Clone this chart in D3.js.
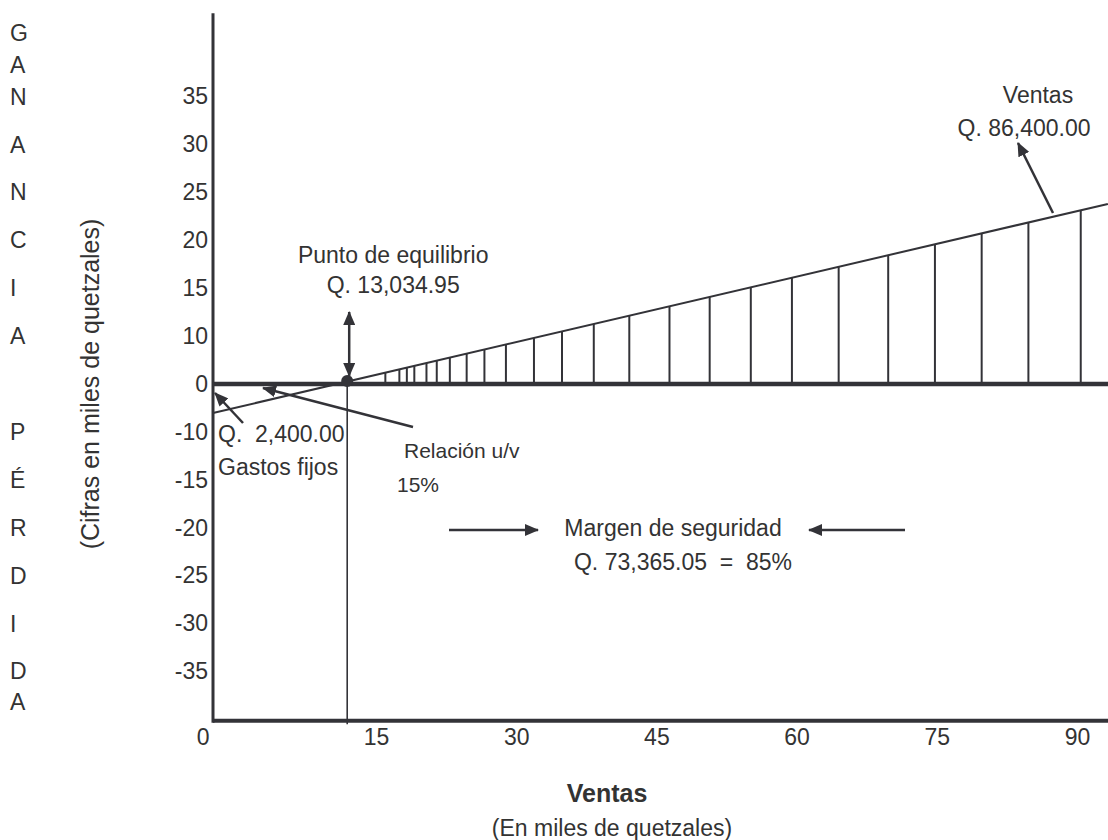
<!DOCTYPE html>
<html>
<head>
<meta charset="utf-8">
<script src="https://cdn.jsdelivr.net/npm/d3@7/dist/d3.min.js"></script>
<style>
  html, body { margin: 0; padding: 0; background: #fff; }
  svg { display: block; font-family: "Liberation Sans", Arial, Helvetica, sans-serif; }
  text { fill: #333; }
</style>
</head>
<body>
<svg id="chart" width="1108" height="840"></svg>
<script>
// ---------------- data ----------------
const xTickValues = [0, 15, 30, 45, 60, 75, 90];
const yTickValues = [35, 30, 25, 20, 15, 10, 0, -10, -15, -20, -25, -30, -35];
const salesLineX = [0, 93.3];          // ventas (miles de Q)
const salesLineY = [-6.05, 23.8];      // ganancia / pérdida (miles de Q)
const breakEven = 12.35;               // punto de equilibrio (posición en el gráfico)
const hatchX = [16, 17.5, 18.3, 19.1, 20.4, 21.5, 22.9, 24.7, 26.6, 28.9, 31.9, 34.9,
                38.3, 42.1, 46.4, 50.7, 55.1, 59.5, 64.5, 69.8, 74.8, 79.8, 84.8, 90.4];
const gananciaLetters = ["G", "A", "N", "A", "N", "C", "I", "A"];
const perdidaLetters = ["P", "É", "R", "D", "I", "D", "A"];

// ---------------- layout ----------------
const W = 1108, H = 840;
const axisX = 213, rightX = 1108;
const zeroY = 384, step = 47.9;
const ink = "#333338";

const svg = d3.select("#chart");

// piecewise scales reproduce the hand-drawn axes
const x = d3.scaleLinear().domain([0, 15, 90]).range([axisX, 376, 1077]);
const y = d3.scaleLinear()
  .domain([-40, -10, 0, 10, 40])
  .range([zeroY + 7 * step, zeroY + step, zeroY, zeroY - step, zeroY - 7 * step]);

const yTop = y(43.7), yBottom = y(-40);

// arrow marker
const defs = svg.append("defs");
defs.append("marker")
  .attr("id", "ah").attr("viewBox", "0 0 14 12")
  .attr("refX", 13).attr("refY", 6)
  .attr("markerWidth", 14).attr("markerHeight", 12)
  .attr("markerUnits", "userSpaceOnUse").attr("orient", "auto-start-reverse")
  .append("path").attr("d", "M0,0 L14,6 L0,12 Z").attr("fill", ink);

// ---------------- axes (labels) ----------------
const yAxis = d3.axisLeft(y).tickValues(yTickValues).tickSize(0).tickPadding(5)
  .tickFormat(d => String(d));
const gy = svg.append("g").attr("transform", `translate(${axisX},0)`).call(yAxis);
gy.select(".domain").remove();
gy.selectAll("text").attr("font-size", 23).attr("fill", "#333")
  .attr("font-family", "Liberation Sans, Arial, sans-serif");

const xAxis = d3.axisBottom(x).tickValues(xTickValues).tickSize(0).tickPadding(9)
  .tickFormat(d => String(d));
const gx = svg.append("g").attr("transform", `translate(0,${yBottom})`).call(xAxis);
gx.select(".domain").remove();
gx.selectAll("text").attr("font-size", 23).attr("fill", "#333")
  .attr("font-family", "Liberation Sans, Arial, sans-serif");
gx.selectAll(".tick").filter(d => d === 0).select("text")
  .attr("text-anchor", "end").attr("x", -4);

// ---------------- hatch lines ----------------
const x0p = x(salesLineX[0]), x1p = x(salesLineX[1]);
const y0p = y(salesLineY[0]), y1p = y(salesLineY[1]);
const lineYAt = px => y0p + (px - x0p) / (x1p - x0p) * (y1p - y0p);

svg.append("g").selectAll("line").data(hatchX).join("line")
  .attr("x1", d => x(d)).attr("x2", d => x(d))
  .attr("y1", d => lineYAt(x(d))).attr("y2", zeroY)
  .attr("stroke", ink).attr("stroke-width", 2);

// break-even vertical line
svg.append("line")
  .attr("x1", x(breakEven)).attr("x2", x(breakEven))
  .attr("y1", zeroY - 4).attr("y2", yBottom + 5)
  .attr("stroke", ink).attr("stroke-width", 1.6);

// sales / profit line
svg.append("path")
  .datum(salesLineX.map((v, i) => [v, salesLineY[i]]))
  .attr("d", d3.line().x(d => x(d[0])).y(d => y(d[1])))
  .attr("fill", "none").attr("stroke", ink).attr("stroke-width", 2);

// axis lines
svg.append("line").attr("x1", axisX).attr("x2", rightX).attr("y1", zeroY).attr("y2", zeroY)
  .attr("stroke", ink).attr("stroke-width", 4.5);
svg.append("line").attr("x1", axisX).attr("x2", rightX).attr("y1", yBottom + 1.5).attr("y2", yBottom + 1.5)
  .attr("stroke", ink).attr("stroke-width", 4);
svg.append("line").attr("x1", axisX).attr("x2", axisX).attr("y1", yTop).attr("y2", yBottom + 3.5)
  .attr("stroke", ink).attr("stroke-width", 3);

// break-even dot
svg.append("circle").attr("cx", x(breakEven)).attr("cy", zeroY - 3).attr("r", 6).attr("fill", ink);

// ---------------- annotations ----------------
function arrow(x1, y1, x2, y2, both) {
  const l = svg.append("line").attr("x1", x1).attr("y1", y1).attr("x2", x2).attr("y2", y2)
    .attr("stroke", ink).attr("stroke-width", 2.5).attr("marker-end", "url(#ah)");
  if (both) l.attr("marker-start", "url(#ah)");
}
function label(tx, ty, str, opts = {}) {
  svg.append("text").attr("x", tx).attr("y", ty)
    .attr("text-anchor", opts.anchor || "middle")
    .attr("dominant-baseline", "central")
    .attr("font-size", opts.size || 23)
    .attr("font-weight", opts.weight || "normal")
    .style("white-space", "pre")
    .text(str);
}

const bx = x(breakEven);
arrow(bx + 2, 312, bx + 2, 376, true);
label(bx + 46, 255, "Punto de equilibrio");
label(bx + 46, 285, "Q. 13,034.95");

arrow(243, 423, 215, 393);
label(218, 434, "Q.  2,400.00", { anchor: "start" });
label(218, 467, "Gastos fijos", { anchor: "start" });

arrow(413, 427, 263, 388);
label(404, 450, "Relación u/v", { anchor: "start", size: 21 });
label(397, 484, "15%", { anchor: "start", size: 21 });

arrow(449, 530, 538, 530);
arrow(905, 530, 809, 530);
label(673, 528, "Margen de seguridad");
label(683, 562, "Q. 73,365.05  =  85%");

arrow(1053, 213, 1018, 143);
label(1038, 95, "Ventas");
label(1024, 128, "Q. 86,400.00");

// axis titles
label(607, 793, "Ventas", { size: 25, weight: "bold" });
label(612, 828, "(En miles de quetzales)");

svg.append("text")
  .attr("transform", `translate(90,${zeroY}) rotate(-90)`)
  .attr("text-anchor", "middle").attr("dominant-baseline", "central")
  .attr("font-size", 25).text("(Cifras en miles de quetzales)");

// vertical words
const gY = gananciaLetters.map((c, i) => i < 2 ? y(35) - (2 - i) * 32 : y(yTickValues[i - 2]));
svg.append("g").selectAll("text").data(gananciaLetters).join("text")
  .attr("x", 10).attr("y", (d, i) => gY[i]).attr("dominant-baseline", "central")
  .attr("font-size", 23).text(d => d);

const negTicks = yTickValues.filter(v => v < 0);
const pY = perdidaLetters.map((c, i) => i < negTicks.length ? y(negTicks[i]) : y(-35) + 31);
svg.append("g").selectAll("text").data(perdidaLetters).join("text")
  .attr("x", 10).attr("y", (d, i) => pY[i]).attr("dominant-baseline", "central")
  .attr("font-size", 23).text(d => d);
</script>
</body>
</html>
